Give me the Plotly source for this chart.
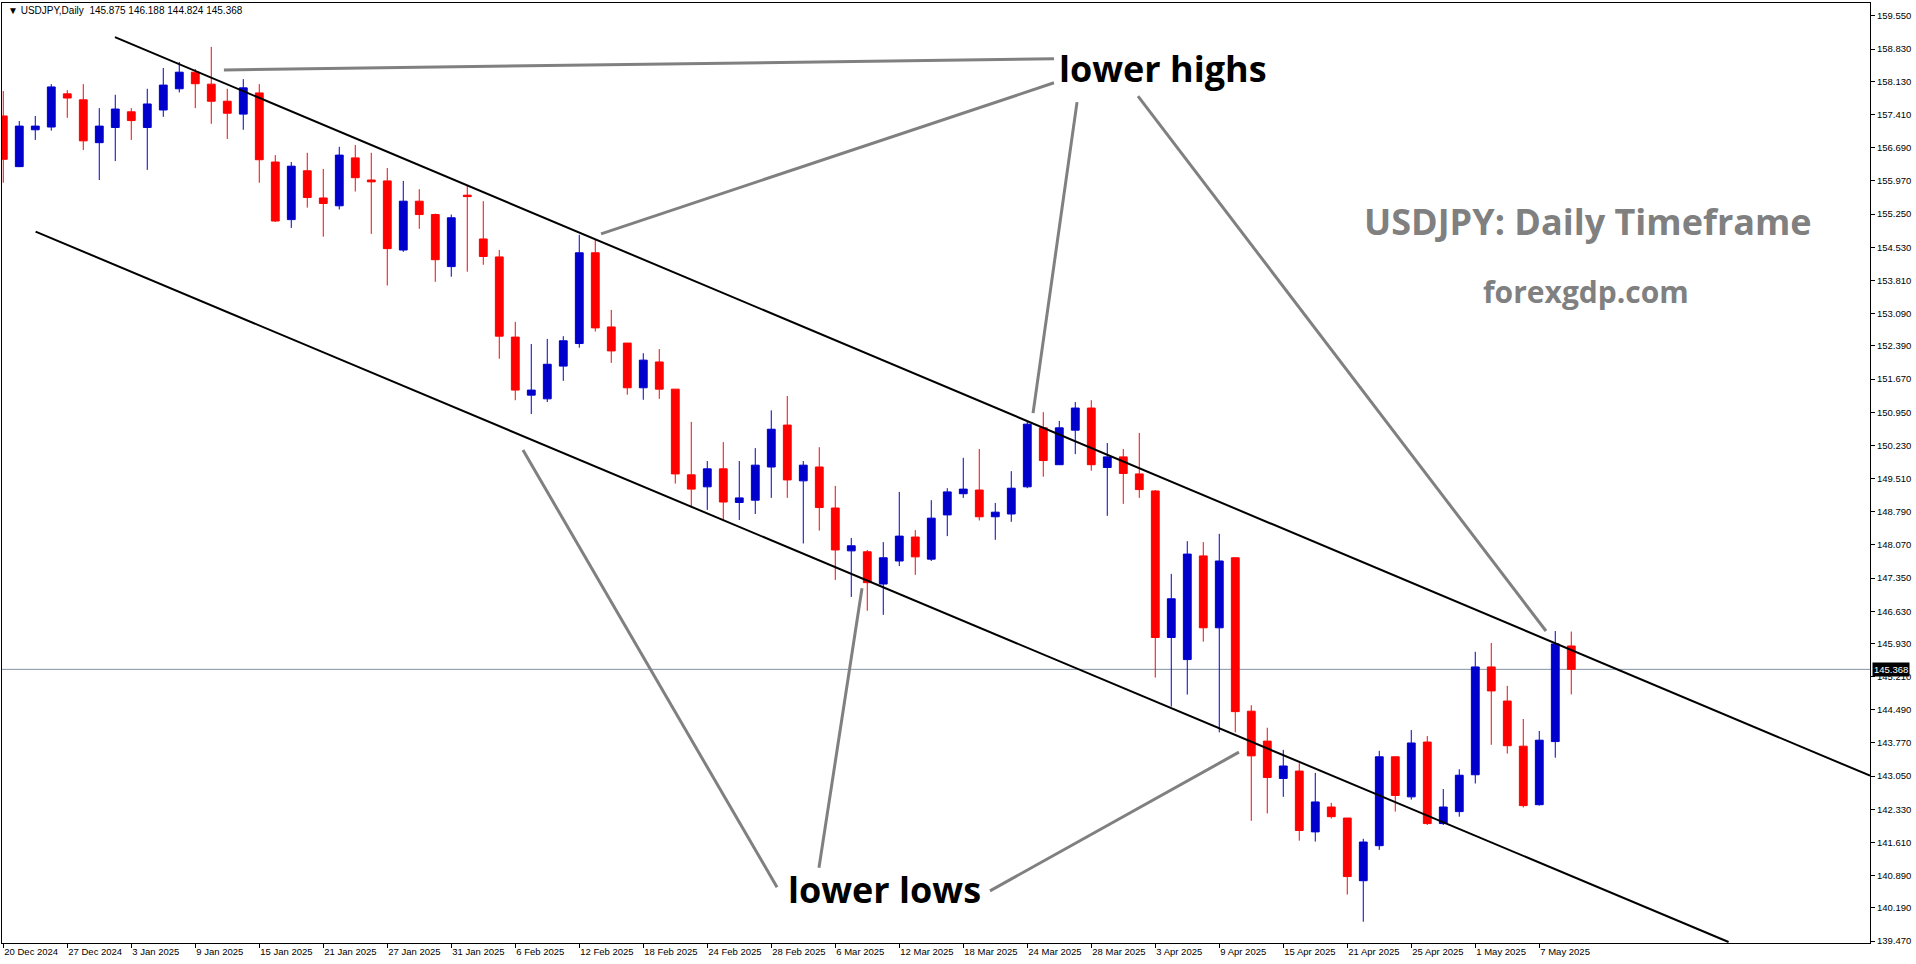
import plotly.graph_objects as go
import pandas as pd

# ---- categories: trading days shown on the chart ----
dates = [d for d in pd.bdate_range("2024-12-20", "2025-05-09")
         if d.strftime("%m-%d") not in ("12-25", "01-01")]

# ---- OHLC series ----
open_ = [157.38, 156.28, 157.08, 157.14, 157.86, 157.73, 156.80, 157.13, 157.47, 157.13,
         157.51, 157.97, 158.33, 158.07, 157.70, 157.42, 157.88, 156.38, 155.13, 156.19,
         155.60, 155.43, 156.47, 155.99, 155.97, 154.47, 155.53, 155.24, 154.11, 155.66,
         154.71, 154.32, 152.58, 151.32, 151.24, 151.95, 152.44, 154.41, 152.80, 152.45,
         151.48, 152.04, 151.45, 149.59, 149.33, 149.72, 148.99, 149.04, 149.76, 150.67,
         149.46, 149.76, 148.87, 147.94, 147.92, 147.22, 147.72, 148.24, 147.76, 148.72,
         149.18, 149.26, 148.68, 148.74, 149.33, 150.61, 149.81, 150.56, 151.04, 149.75,
         149.98, 149.61, 149.24, 146.06, 145.58, 147.83, 146.27, 147.79, 144.46, 143.81,
         143.00, 143.16, 141.84, 142.38, 142.14, 140.78, 141.54, 143.47, 142.60, 143.79,
         142.02, 142.28, 143.08, 145.42, 144.68, 143.70, 142.43, 143.80, 145.875]
high = [157.92, 157.27, 157.38, 158.07, 157.94, 158.07, 157.55, 157.84, 157.55, 157.97,
        158.42, 158.55, 158.40, 158.88, 157.97, 158.18, 158.07, 156.53, 156.38, 156.58,
        156.23, 156.71, 156.75, 156.58, 156.25, 155.97, 155.79, 155.26, 155.24, 155.87,
        155.53, 154.47, 152.91, 152.43, 152.54, 152.60, 154.80, 154.69, 153.17, 152.45,
        152.23, 152.32, 151.45, 150.74, 149.89, 150.30, 149.89, 150.17, 150.99, 151.30,
        149.89, 150.19, 149.35, 148.22, 147.96, 148.13, 149.22, 148.39, 149.04, 149.30,
        149.96, 150.15, 148.98, 149.67, 150.74, 150.95, 150.76, 151.17, 151.21, 150.28,
        150.15, 150.50, 149.26, 147.44, 148.15, 148.13, 148.31, 147.79, 144.59, 144.10,
        143.62, 143.33, 143.12, 142.47, 142.14, 141.69, 143.60, 143.47, 144.05, 143.92,
        142.77, 143.20, 145.75, 145.94, 145.01, 144.29, 144.03, 146.20, 146.188]
low = [155.93, 156.27, 156.86, 157.06, 157.34, 156.64, 155.99, 156.40, 156.86, 156.21,
       157.36, 157.89, 157.55, 157.21, 156.88, 157.08, 155.93, 155.08, 154.95, 155.39,
       154.76, 155.35, 155.74, 154.82, 153.70, 154.43, 154.93, 153.78, 153.89, 154.00,
       154.15, 152.11, 151.21, 150.91, 151.17, 151.63, 152.35, 152.70, 152.02, 151.33,
       151.22, 151.24, 149.40, 148.90, 148.83, 148.60, 148.61, 148.74, 149.09, 149.09,
       148.10, 148.38, 147.31, 146.94, 146.64, 146.55, 147.61, 147.42, 147.72, 148.26,
       149.09, 148.60, 148.18, 148.57, 149.30, 149.55, 149.81, 150.04, 149.68, 148.70,
       148.96, 149.09, 145.19, 144.56, 144.82, 145.97, 144.00, 144.00, 142.08, 142.24,
       142.60, 141.65, 141.63, 142.13, 140.48, 139.89, 141.45, 142.28, 142.54, 141.99,
       141.99, 142.17, 142.89, 143.73, 143.54, 142.37, 142.41, 143.45, 144.824]
close = [156.44, 157.16, 157.16, 158.01, 157.77, 156.84, 157.16, 157.53, 157.28, 157.64,
         158.05, 158.33, 158.08, 157.70, 157.44, 157.99, 156.43, 155.10, 156.29, 155.61,
         155.48, 156.53, 156.04, 155.95, 154.50, 155.53, 155.24, 154.26, 155.17, 155.63,
         154.33, 152.60, 151.43, 151.43, 151.99, 152.50, 154.41, 152.78, 152.28, 151.48,
         152.08, 151.45, 149.61, 149.28, 149.72, 149.00, 149.09, 149.80, 150.58, 149.48,
         149.80, 148.88, 147.96, 148.05, 147.25, 147.79, 148.26, 147.81, 148.65, 149.22,
         149.28, 148.68, 148.78, 149.30, 150.69, 149.90, 150.61, 151.04, 149.81, 149.98,
         149.62, 149.27, 146.06, 146.90, 147.87, 146.27, 147.72, 144.45, 143.49, 143.02,
         143.27, 141.87, 142.49, 142.17, 140.87, 141.62, 143.47, 142.63, 143.77, 142.02,
         142.38, 143.07, 145.42, 144.90, 143.71, 142.41, 143.83, 145.92, 145.368]

# ---- axis tick labels ----
price_ticks = ["159.550", "158.830", "158.130", "157.410", "156.690", "155.970", "155.250",
               "154.530", "153.810", "153.090", "152.390", "151.670", "150.950", "150.230",
               "149.510", "148.790", "148.070", "147.350", "146.630", "145.930", "145.210",
               "144.490", "143.770", "143.050", "142.330", "141.610", "140.890", "140.190",
               "139.470"]
date_tick_step = 4

# ---- drawn objects in (bar index, price) ----
upper_channel = ([6.98, 116.67], [159.09, 143.06])
lower_channel = ([2.02, 107.83], [154.87, 139.45])
pointer_lines = [
    ([13.79, 65.67], [158.38, 158.62]),
    ([37.36, 65.67], [154.82, 158.10]),
    ([64.36, 67.11], [150.93, 157.68]),
    ([70.92, 96.42], [157.81, 146.20]),
    ([32.48, 48.36], [150.13, 140.64]),
    ([53.67, 50.98], [147.13, 141.06]),
    ([77.23, 61.67], [143.57, 140.56]),
]
labels = [
    ("lower highs", 72.48, 158.42),
    ("lower lows", 55.08, 140.58),
]

idx = list(range(len(dates)))
tick_idx = idx[::date_tick_step]
tick_txt = [f"{dates[i].day} {dates[i].strftime('%b %Y')}" for i in tick_idx]

BLUE = "#0000CD"
RED = "#FF0000"
fig = go.Figure()
fig.add_trace(go.Candlestick(
    x=idx, open=open_, high=high, low=low, close=close,
    increasing=dict(line=dict(color=BLUE, width=1), fillcolor=BLUE),
    decreasing=dict(line=dict(color=RED, width=1), fillcolor=RED),
    whiskerwidth=0, showlegend=False, hoverinfo="skip",
))

shapes = []
# bid line
shapes.append(dict(type="line", xref="paper", x0=0, x1=1, yref="y",
                   y0=close[-1], y1=close[-1], line=dict(color="#8593A2", width=1),
                   layer="below"))
for xs, ys in (upper_channel, lower_channel):
    shapes.append(dict(type="line", xref="x", yref="y", x0=xs[0], x1=xs[1],
                       y0=ys[0], y1=ys[1], line=dict(color="black", width=2)))
for xs, ys in pointer_lines:
    shapes.append(dict(type="line", xref="x", yref="y", x0=xs[0], x1=xs[1],
                       y0=ys[0], y1=ys[1], line=dict(color="#808080", width=3)))

annotations = []
for txt, xv, yv in labels:
    annotations.append(dict(text=f"<b>{txt}</b>", x=xv, y=yv, xref="x", yref="y",
                            showarrow=False, xanchor="center", yanchor="middle",
                            font=dict(family="Open Sans", size=36, color="black")))
annotations.append(dict(text="<b>USDJPY: Daily Timeframe</b>", x=99.02, y=155.08,
                        xref="x", yref="y", showarrow=False, xanchor="center",
                        yanchor="middle",
                        font=dict(family="Open Sans", size=36, color="#808080")))
annotations.append(dict(text="<b>forexgdp.com</b>", x=98.92, y=153.57,
                        xref="x", yref="y", showarrow=False, xanchor="center",
                        yanchor="middle",
                        font=dict(family="Open Sans", size=30, color="#808080")))
header = (f"▼ USDJPY,Daily  {open_[-1]:.3f} {high[-1]:.3f} "
          f"{low[-1]:.3f} {close[-1]:.3f}")
annotations.append(dict(text=header, x=0.002, y=0.9925, xref="paper", yref="paper",
                        showarrow=False, xanchor="left", yanchor="middle",
                        font=dict(family="Liberation Sans", size=10, color="black")))
annotations.append(dict(text=f"{close[-1]:.3f}", x=1, y=close[-1], xref="paper",
                        yref="y", showarrow=False, xanchor="left", yanchor="middle",
                        xshift=2, bgcolor="black", borderpad=1,
                        font=dict(family="Liberation Sans", size=9.5, color="white")))

fig.update_layout(
    width=1916, height=964,
    margin=dict(l=2, r=46, t=3, b=21),
    paper_bgcolor="white", plot_bgcolor="white",
    shapes=shapes, annotations=annotations,
    showlegend=False,
    xaxis=dict(range=[-0.08, 116.67], tickmode="array", tickvals=tick_idx,
               ticktext=tick_txt, ticks="outside", ticklen=4, tickcolor="black",
               ticklabelposition="outside right",
               showline=True, mirror=True, linecolor="black", linewidth=1,
               showgrid=False, zeroline=False, rangeslider=dict(visible=False),
               tickfont=dict(family="Liberation Sans", size=9.5, color="black")),
    yaxis=dict(side="right", range=[139.428, 159.832], tickmode="array",
               tickvals=[float(t) for t in price_ticks], ticktext=price_ticks,
               ticks="outside", ticklen=4, tickcolor="black",
               showline=True, mirror=True, linecolor="black", linewidth=1,
               showgrid=False, zeroline=False,
               tickfont=dict(family="Liberation Sans", size=9.5, color="black")),
)

fig.write_html("out.html",
               config={"displayModeBar": False},
               post_script="document.body.style.margin='0';"
                           "document.body.style.overflow='hidden';")
